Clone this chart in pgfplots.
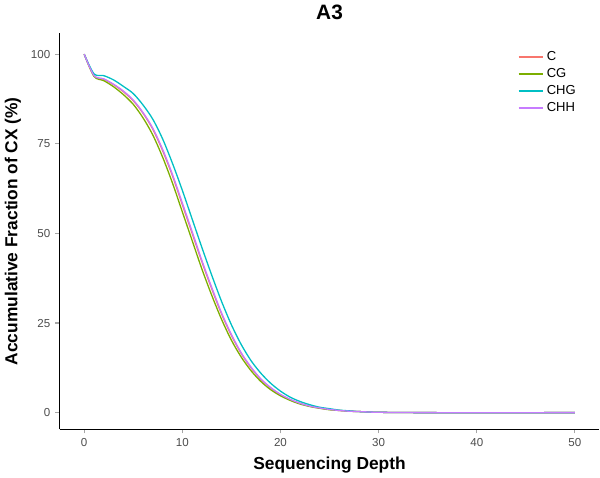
\documentclass[border=0pt]{standalone}
\usepackage{pgfplots}
\pgfplotsset{compat=1.18}
\usepackage{fontspec}
\setmainfont{Liberation Sans}
\definecolor{cC}{HTML}{F8766D}
\definecolor{cCG}{HTML}{7CAE00}
\definecolor{cCHG}{HTML}{00BFC4}
\definecolor{cCHH}{HTML}{C77CFF}
\begin{document}
\begin{tikzpicture}
\begin{axis}[
width=14.7cm, height=11.2cm,
xmin=-2.5, xmax=52.5, ymin=-4.6, ymax=105.8,
axis x line*=bottom, axis y line*=left,
axis line style={black, thick, -},
xtick={0,10,20,30,40,50}, ytick={0,25,50,75,100},
tick align=outside, tick style={gray!70, thick},
major tick length=3pt,
ticklabel style={gray!60!black, font=\footnotesize},
/pgf/number format/assume math mode=true,
xlabel={\textbf{Sequencing Depth}}, ylabel={\textbf{Accumulative Fraction of CX (\%)}},
label style={font=\large},
title={\textbf{A3}}, title style={font=\Large},
legend style={draw=none, at={(0.97,0.97)}, anchor=north east, font=\small, fill=none},
legend cell align=left,
]
\addplot[color=cC, line width=0.9pt, smooth, mark=none] coordinates {(0,100)(1,94)(2,93)(3,91.5)(4,89.5)(5,87)(6,83.5)(7,79)(8,73)(9,66)(10,58)(11,50)(12,42)(13,34.5)(14,27.5)(15,21.5)(16,16.5)(17,12.5)(18,9.3)(19,6.9)(20,5)(21,3.6)(22,2.6)(23,1.8)(24,1.3)(25,0.9)(26,0.6)(27,0.4)(28,0.3)(30,0.1)(35,0)(50,0)};
\addlegendentry{C}
\addplot[color=cCG, line width=0.9pt, smooth, mark=none] coordinates {(0,100)(1,93.8)(2,92.6)(3,90.9)(4,88.7)(5,86)(6,82.2)(7,77.4)(8,71.2)(9,64)(10,56)(11,48)(12,40)(13,32.7)(14,26)(15,20.2)(16,15.5)(17,11.7)(18,8.7)(19,6.4)(20,4.7)(21,3.4)(22,2.4)(23,1.7)(24,1.2)(25,0.8)(26,0.6)(27,0.4)(28,0.3)(30,0.1)(35,0)(50,0)};
\addlegendentry{CG}
\addplot[color=cCHG, line width=0.9pt, smooth, mark=none] coordinates {(0,100)(1,94.5)(2,94)(3,92.8)(4,91)(5,89)(6,85.8)(7,81.8)(8,76.3)(9,69.5)(10,62)(11,54)(12,46)(13,38.3)(14,31)(15,24.5)(16,19)(17,14.5)(18,11)(19,8.2)(20,6)(21,4.3)(22,3.1)(23,2.2)(24,1.5)(25,1.1)(26,0.7)(27,0.5)(28,0.3)(30,0.1)(35,0)(50,0)};
\addlegendentry{CHG}
\addplot[color=cCHH, line width=0.9pt, smooth, mark=none] coordinates {(0,100)(1,94)(2,93.1)(3,91.6)(4,89.7)(5,87.2)(6,83.7)(7,79.3)(8,73.4)(9,66.4)(10,58.5)(11,50.5)(12,42.4)(13,34.9)(14,27.8)(15,21.8)(16,16.7)(17,12.7)(18,9.4)(19,7)(20,5.1)(21,3.7)(22,2.6)(23,1.8)(24,1.3)(25,0.9)(26,0.6)(27,0.4)(28,0.3)(30,0.1)(35,0)(50,0)};
\addlegendentry{CHH}
\end{axis}
\end{tikzpicture}
\end{document}
